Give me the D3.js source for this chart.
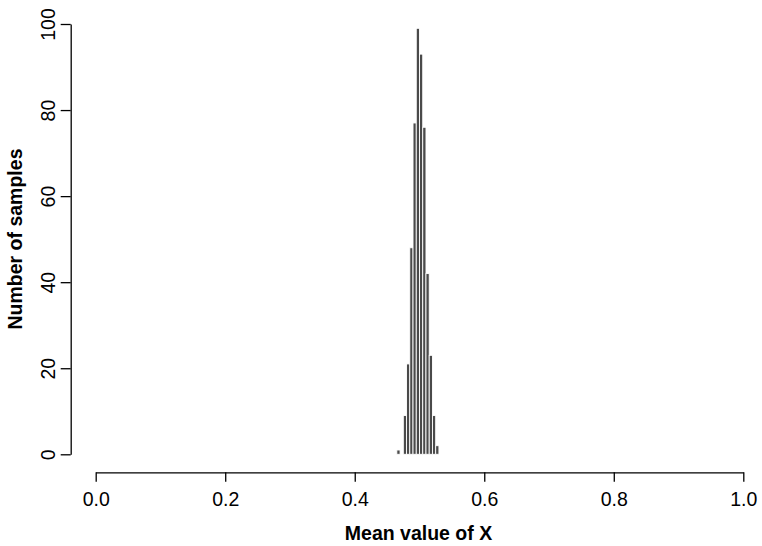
<!DOCTYPE html>
<html>
<head>
<meta charset="utf-8">
<script src="https://cdn.jsdelivr.net/npm/d3@7"></script>
<style>
  body { margin: 0; background: #fff; }
  svg { display: block; }
  text { font-family: "Liberation Sans", Arial, Helvetica, sans-serif; }
</style>
</head>
<body>
<svg id="chart" width="762" height="546"></svg>
<script>
// Histogram bins (left edge, width 0.005) and counts
const binStarts = [0.465, 0.470, 0.475, 0.480, 0.485, 0.490, 0.495, 0.500, 0.505, 0.510, 0.515, 0.520, 0.525];
const binWidth = 0.005;
const counts = [1, 0, 9, 21, 48, 77, 99, 93, 76, 42, 23, 9, 2];
const xTicks = [0.0, 0.2, 0.4, 0.6, 0.8, 1.0];
const yTicks = [0, 20, 40, 60, 80, 100];
const xLabel = "Mean value of X";
const yLabel = "Number of samples";

const FS = 19.5;
const svg = d3.select("#chart");
const x = d3.scaleLinear().domain([0, 1]).range([95.7, 743.3]);
const y = d3.scaleLinear().domain([0, 100]).range([454.3, 24]);

const bins = binStarts.map((s, i) => ({ x0: s, x1: s + binWidth, n: counts[i] }));

svg.append("g").selectAll("rect").data(bins).join("rect")
  .attr("x", d => x(d.x0))
  .attr("width", d => x(d.x1) - x(d.x0))
  .attr("y", d => y(d.n))
  .attr("height", d => y(0) - y(d.n))
  .attr("fill", "#4a4a4a")
  .attr("stroke", "#ffffff")
  .attr("stroke-width", 0.9);

// X axis
const xAxis = svg.append("g")
  .attr("transform", "translate(0,472.3)")
  .call(d3.axisBottom(x).tickValues(xTicks).tickFormat(d3.format(".1f")).tickSize(9.5).tickSizeOuter(0).tickPadding(10.5));
xAxis.select(".domain").attr("stroke-width", 1.3);
xAxis.selectAll(".tick line").attr("stroke-width", 1.3);
xAxis.selectAll(".tick text").attr("font-size", FS).attr("fill", "#000")
  .attr("font-family", "Liberation Sans, Arial, sans-serif");

// Y axis
const yAxis = svg.append("g")
  .attr("transform", "translate(70.7,0)")
  .call(d3.axisLeft(y).tickValues(yTicks).tickSize(10).tickSizeOuter(0));
yAxis.select(".domain").attr("stroke-width", 1.3);
yAxis.selectAll(".tick line").attr("stroke-width", 1.3);
yAxis.selectAll(".tick text")
  .attr("font-size", FS).attr("fill", "#000")
  .attr("font-family", "Liberation Sans, Arial, sans-serif")
  .attr("x", null).attr("dy", null)
  .attr("text-anchor", "middle")
  .attr("transform", "translate(-15.7,0) rotate(-90)");

// Axis titles
svg.append("text")
  .attr("x", 418.5).attr("y", 540)
  .attr("text-anchor", "middle")
  .attr("font-size", FS).attr("font-weight", "bold")
  .text(xLabel);

svg.append("text")
  .attr("transform", "translate(22,239) rotate(-90)")
  .attr("text-anchor", "middle")
  .attr("font-size", FS).attr("font-weight", "bold")
  .text(yLabel);
</script>
</body>
</html>
